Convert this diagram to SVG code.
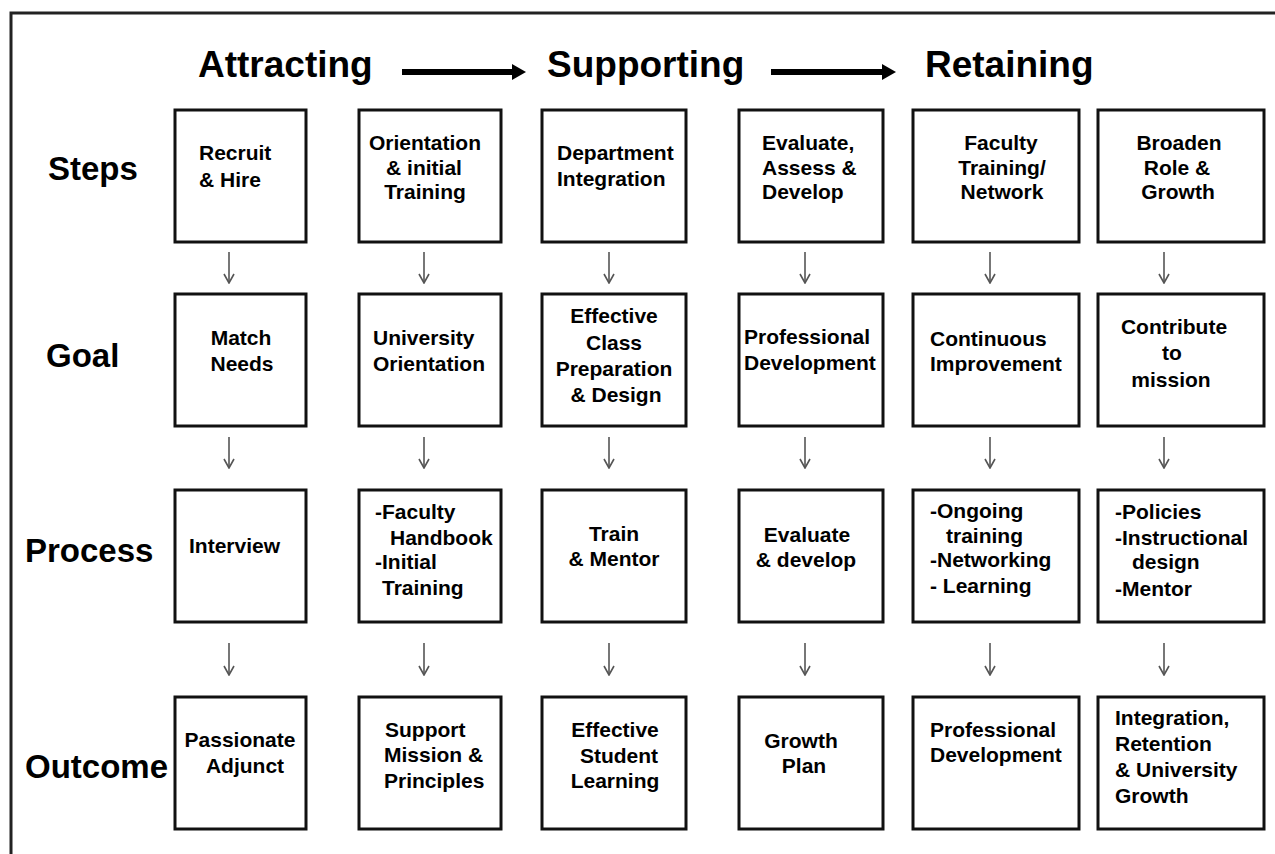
<svg xmlns="http://www.w3.org/2000/svg" width="1275" height="854" viewBox="0 0 1275 854">
<defs>
<style>
.box{fill:#fff;stroke:#111;stroke-width:3}
.t{font-family:"Liberation Sans",Arial,sans-serif;font-weight:bold;font-size:21px;fill:#000}
.m{text-anchor:middle}
.hd{font-family:"Liberation Sans",Arial,sans-serif;font-weight:bold;font-size:37px;fill:#000}
.rl{font-family:"Liberation Sans",Arial,sans-serif;font-weight:bold;font-size:33px;fill:#000}
.ar{stroke:#555;stroke-width:1.6;fill:none}
.big{stroke:#000;stroke-width:6}
</style>
<marker id="v" markerWidth="12" markerHeight="12" refX="11" refY="6" orient="auto" markerUnits="userSpaceOnUse" viewBox="0 0 12 12">
<path d="M2,1 L11,6 L2,11" fill="none" stroke="#555" stroke-width="1.6"/>
</marker>
</defs>
<rect x="0" y="0" width="1275" height="854" fill="#fff"/>
<path d="M11,854 L11,13 L1275,13" fill="none" stroke="#222" stroke-width="3"/>

<g id="header">
<text class="hd" x="198" y="77">Attracting</text>
<text class="hd" x="547" y="77">Supporting</text>
<text class="hd" x="925" y="77">Retaining</text>
<line class="big" x1="402" y1="72" x2="514" y2="72"/>
<polygon points="512,64 526,72 512,80" fill="#000"/>
<line class="big" x1="771" y1="72" x2="884" y2="72"/>
<polygon points="882,64 896,72 882,80" fill="#000"/>
</g>

<g id="row-labels">
<text class="rl" x="48" y="180">Steps</text>
<text class="rl" x="46" y="367">Goal</text>
<text class="rl" x="25" y="562">Process</text>
<text class="rl" x="25" y="778">Outcome</text>
</g>

<g id="steps-recruit"><rect class="box" x="175" y="110" width="131" height="132"/>
<text class="t" x="199" y="160">Recruit</text><text class="t" x="199" y="187">&amp; Hire</text></g>
<g id="steps-orientation"><rect class="box" x="359" y="110" width="142" height="132"/>
<text class="t m" x="425" y="150">Orientation</text><text class="t m" x="424" y="175">&amp; initial</text><text class="t m" x="425" y="199">Training</text></g>
<g id="steps-department"><rect class="box" x="542" y="110" width="144" height="132"/>
<text class="t" x="557" y="160">Department</text><text class="t" x="557" y="186">Integration</text></g>
<g id="steps-evaluate"><rect class="box" x="739" y="110" width="144" height="132"/>
<text class="t" x="762" y="150">Evaluate,</text><text class="t" x="762" y="175">Assess &amp;</text><text class="t" x="762" y="199">Develop</text></g>
<g id="steps-faculty"><rect class="box" x="913" y="110" width="166" height="132"/>
<text class="t m" x="1001" y="150">Faculty</text><text class="t m" x="1002" y="175">Training/</text><text class="t m" x="1002" y="199">Network</text></g>
<g id="steps-broaden"><rect class="box" x="1098" y="110" width="166" height="132"/>
<text class="t m" x="1179" y="150">Broaden</text><text class="t m" x="1177" y="175">Role &amp;</text><text class="t m" x="1178" y="199">Growth</text></g>

<g id="goal-match"><rect class="box" x="175" y="294" width="131" height="132"/>
<text class="t m" x="241" y="345">Match</text><text class="t m" x="242" y="371">Needs</text></g>
<g id="goal-university"><rect class="box" x="359" y="294" width="142" height="132"/>
<text class="t" x="373" y="345">University</text><text class="t" x="373" y="371">Orientation</text></g>
<g id="goal-class"><rect class="box" x="542" y="294" width="144" height="132"/>
<text class="t m" x="614" y="323">Effective</text><text class="t m" x="614" y="350">Class</text><text class="t m" x="614" y="376">Preparation</text><text class="t m" x="616" y="402">&amp; Design</text></g>
<g id="goal-professional"><rect class="box" x="739" y="294" width="144" height="132"/>
<text class="t" x="744" y="344">Professional</text><text class="t" x="744" y="370">Development</text></g>
<g id="goal-continuous"><rect class="box" x="913" y="294" width="166" height="132"/>
<text class="t" x="930" y="346">Continuous</text><text class="t" x="930" y="371">Improvement</text></g>
<g id="goal-contribute"><rect class="box" x="1098" y="294" width="166" height="132"/>
<text class="t m" x="1174" y="334">Contribute</text><text class="t m" x="1172" y="360">to</text><text class="t m" x="1171" y="387">mission</text></g>

<g id="process-interview"><rect class="box" x="175" y="490" width="131" height="132"/>
<text class="t" x="189" y="553">Interview</text></g>
<g id="process-handbook"><rect class="box" x="359" y="490" width="142" height="132"/>
<text class="t" x="375" y="519">-Faculty</text><text class="t" x="390" y="545">Handbook</text><text class="t" x="375" y="569">-Initial</text><text class="t" x="382" y="595">Training</text></g>
<g id="process-train"><rect class="box" x="542" y="490" width="144" height="132"/>
<text class="t m" x="614" y="541">Train</text><text class="t m" x="614" y="566">&amp; Mentor</text></g>
<g id="process-evaluate"><rect class="box" x="739" y="490" width="144" height="132"/>
<text class="t m" x="807" y="542">Evaluate</text><text class="t m" x="806" y="567">&amp; develop</text></g>
<g id="process-ongoing"><rect class="box" x="913" y="490" width="166" height="132"/>
<text class="t" x="930" y="518">-Ongoing</text><text class="t" x="946" y="543">training</text><text class="t" x="930" y="567">-Networking</text><text class="t" x="930" y="593">- Learning</text></g>
<g id="process-policies"><rect class="box" x="1098" y="490" width="166" height="132"/>
<text class="t" x="1115" y="519">-Policies</text><text class="t" x="1115" y="545">-Instructional</text><text class="t" x="1132" y="569">design</text><text class="t" x="1115" y="596">-Mentor</text></g>

<g id="outcome-passionate"><rect class="box" x="175" y="697" width="131" height="132"/>
<text class="t m" x="240" y="747">Passionate</text><text class="t m" x="245" y="773">Adjunct</text></g>
<g id="outcome-support"><rect class="box" x="359" y="697" width="142" height="132"/>
<text class="t" x="385" y="737">Support</text><text class="t" x="384" y="762">Mission &amp;</text><text class="t" x="384" y="788">Principles</text></g>
<g id="outcome-learning"><rect class="box" x="542" y="697" width="144" height="132"/>
<text class="t m" x="615" y="737">Effective</text><text class="t m" x="619" y="763">Student</text><text class="t m" x="615" y="788">Learning</text></g>
<g id="outcome-growth"><rect class="box" x="739" y="697" width="144" height="132"/>
<text class="t m" x="801" y="748">Growth</text><text class="t m" x="804" y="773">Plan</text></g>
<g id="outcome-professional"><rect class="box" x="913" y="697" width="166" height="132"/>
<text class="t" x="930" y="737">Professional</text><text class="t" x="930" y="762">Development</text></g>
<g id="outcome-integration"><rect class="box" x="1098" y="697" width="166" height="132"/>
<text class="t" x="1115" y="725">Integration,</text><text class="t" x="1115" y="751">Retention</text><text class="t" x="1115" y="777">&amp; University</text><text class="t" x="1115" y="803">Growth</text></g>

<g id="connectors">
<line class="ar" x1="229" y1="252" x2="229" y2="283" marker-end="url(#v)"/>
<line class="ar" x1="424" y1="252" x2="424" y2="283" marker-end="url(#v)"/>
<line class="ar" x1="609" y1="252" x2="609" y2="283" marker-end="url(#v)"/>
<line class="ar" x1="805" y1="252" x2="805" y2="283" marker-end="url(#v)"/>
<line class="ar" x1="990" y1="252" x2="990" y2="283" marker-end="url(#v)"/>
<line class="ar" x1="1164" y1="252" x2="1164" y2="283" marker-end="url(#v)"/>
<line class="ar" x1="229" y1="437" x2="229" y2="468" marker-end="url(#v)"/>
<line class="ar" x1="424" y1="437" x2="424" y2="468" marker-end="url(#v)"/>
<line class="ar" x1="609" y1="437" x2="609" y2="468" marker-end="url(#v)"/>
<line class="ar" x1="805" y1="437" x2="805" y2="468" marker-end="url(#v)"/>
<line class="ar" x1="990" y1="437" x2="990" y2="468" marker-end="url(#v)"/>
<line class="ar" x1="1164" y1="437" x2="1164" y2="468" marker-end="url(#v)"/>
<line class="ar" x1="229" y1="643" x2="229" y2="675" marker-end="url(#v)"/>
<line class="ar" x1="424" y1="643" x2="424" y2="675" marker-end="url(#v)"/>
<line class="ar" x1="609" y1="643" x2="609" y2="675" marker-end="url(#v)"/>
<line class="ar" x1="805" y1="643" x2="805" y2="675" marker-end="url(#v)"/>
<line class="ar" x1="990" y1="643" x2="990" y2="675" marker-end="url(#v)"/>
<line class="ar" x1="1164" y1="643" x2="1164" y2="675" marker-end="url(#v)"/>
</g>
</svg>
